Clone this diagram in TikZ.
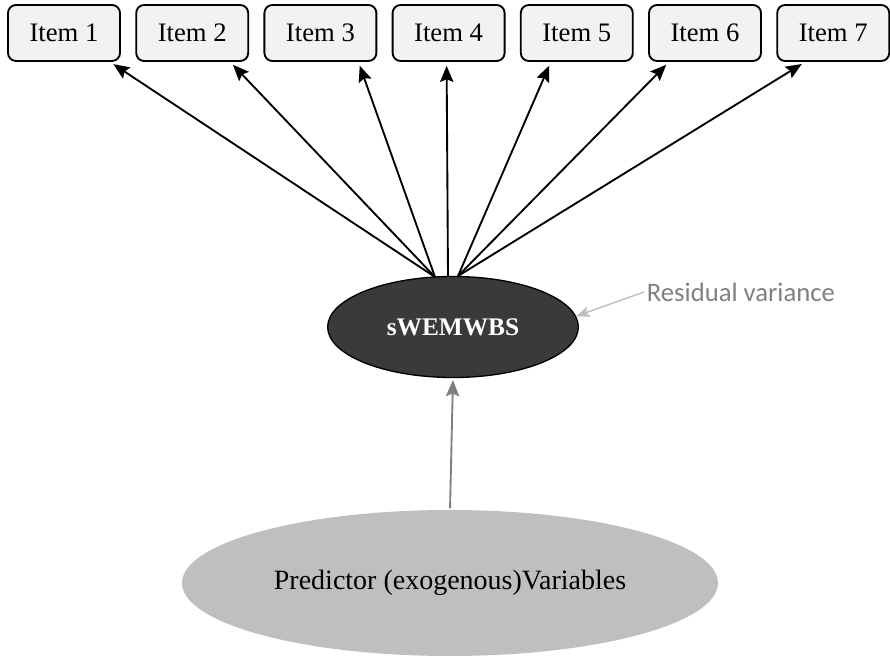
\documentclass[tikz,border=0pt]{standalone}
\usepackage{fontspec}
\setmainfont{Liberation Serif}
\newfontfamily\calfont{Carlito}
\usetikzlibrary{shapes.geometric,arrows.meta}
\definecolor{boxgray}{HTML}{F2F2F2}
\definecolor{latdark}{HTML}{3A3A3A}
\definecolor{exogray}{HTML}{BFBFBF}
\definecolor{regarrow}{HTML}{7F7F7F}
\definecolor{resgray}{HTML}{808080}
\definecolor{resarrow}{HTML}{BFBFBF}
\tikzset{
  itembox/.style={draw,rounded corners=6pt,fill=boxgray,line width=1.4pt,
    minimum width=84pt,minimum height=42pt,inner sep=0pt,
    font=\fontsize{20}{22}\selectfont},
  load/.style={-{Stealth[length=12pt,width=10pt,inset=2pt]},line width=1.4pt,shorten >=3pt},
}
\begin{document}
\begin{tikzpicture}[x=0.75pt,y=-0.75pt]
		\useasboundingbox (0,0) rectangle (890,656);
		\coordinate (fl) at (435,277);
		\coordinate (fm) at (448,277);
		\coordinate (fr) at (458,276);
		\foreach \i in {1,...,7}
			\node[itembox] (i\i) at ({64+128.2*(\i-1)},33) {Item \i};
		\node[draw,ellipse,fill=latdark,line width=1pt,minimum width=188pt,minimum height=75.75pt,inner sep=0pt,
			text=white,font=\fontsize{19}{21}\selectfont\bfseries] (sw) at (453,327) {sWEMWBS};
		\node[ellipse,fill=exogray,minimum width=402pt,minimum height=109.5pt,inner sep=0pt,
			font=\fontsize{21}{23}\selectfont] (pv) at (450,583) {Predictor (exogenous)Variables};
		\node[anchor=west,text=resgray,inner sep=2pt,font=\calfont\fontsize{20}{22}\selectfont] (res) at (644,292) {Residual variance};
		\foreach \i/\s/\o in {1/46/fl,2/38/fl,3/38/fl,4/-2/fm,5/-26/fr,6/-36/fr,7/-28/fr}
			\draw[load] (\o) -- ([xshift=\s*0.75]i\i.south);
		\draw[-{Stealth[length=12pt,width=10pt,inset=2pt]},regarrow,line width=1.4pt,shorten <=1pt,shorten >=1.5pt] (pv.north) -- (sw.south);
		\draw[-{Stealth[length=10pt,width=8pt,inset=2pt]},resarrow,line width=1.1pt] (res.west) -- (sw.5);
	\end{tikzpicture}
\end{document}
